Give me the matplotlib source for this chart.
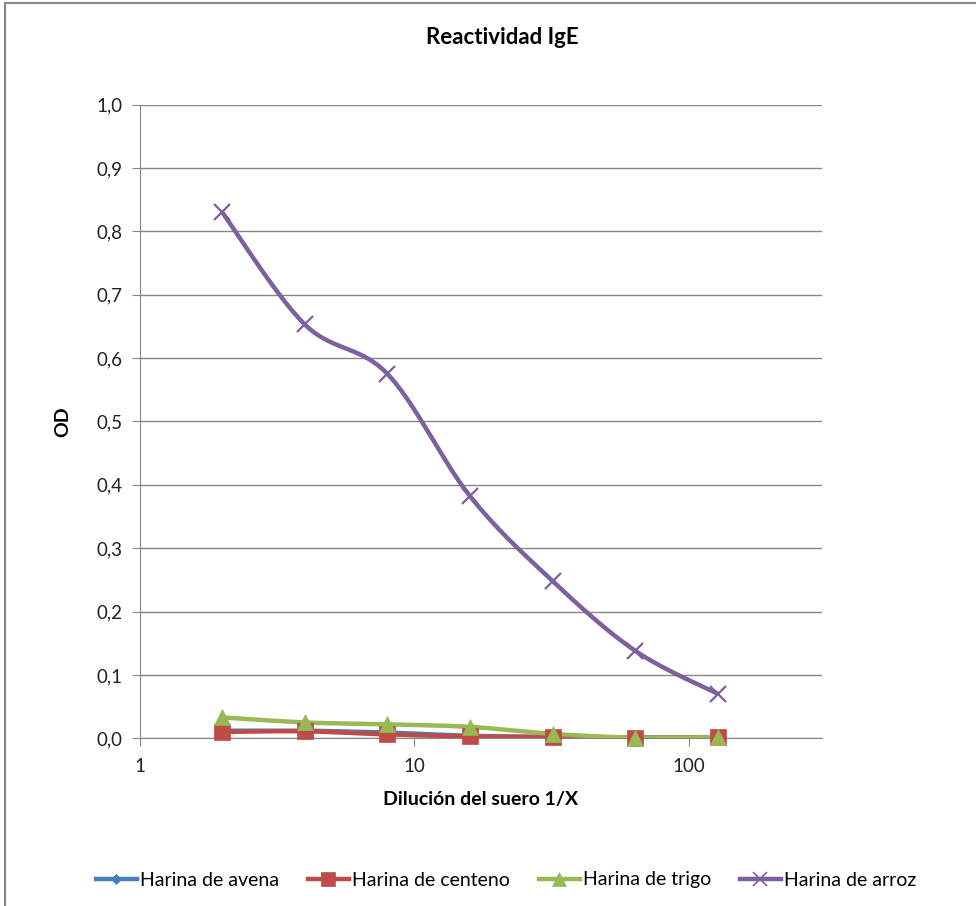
import numpy as np
import matplotlib
matplotlib.use("Agg")
import matplotlib.pyplot as plt
from matplotlib.patches import Rectangle
from matplotlib.lines import Line2D

dilution = [2, 4, 8, 16, 32, 64, 128]
avena = [0.012, 0.012, 0.009, 0.004, 0.002, 0.001, 0.001]
centeno = [0.010, 0.011, 0.006, 0.003, 0.002, 0.001, 0.002]
trigo = [0.033, 0.025, 0.022, 0.018, 0.007, 0.001, 0.002]
arroz = [0.830, 0.653, 0.575, 0.382, 0.248, 0.138, 0.070]
series_names = ["Harina de avena", "Harina de centeno", "Harina de trigo", "Harina de arroz"]
y_ticks = [0.0, 0.1, 0.2, 0.3, 0.4, 0.5, 0.6, 0.7, 0.8, 0.9, 1.0]
x_ticks = [1, 10, 100]

colors = ["#4A7EBB", "#BE4B48", "#98B954", "#7D60A0"]
markers = ["D", "s", "^", "x"]
msizes = [6, 12, 12, 12]

plt.rcParams['font.family'] = ['Lato', 'DejaVu Sans']

fig = plt.figure(figsize=(9.76, 9.06), dpi=100)
fig.patches.append(Rectangle((5/976, -0.1), 1.2, 1 - 3/906 + 0.1, transform=fig.transFigure,
                             fill=False, edgecolor="#868686", linewidth=1.5))
L, R, T, B = 139.5, 822, 104.5, 738.3
DEC = 274.5
ax = fig.add_axes([L/976, 1 - B/906, (R-L)/976, (B-T)/906])

XS, YS = DEC, (B - T)  # pixel scale for smoothing


def smooth(xs, ys, n=30):
    px = np.log10(np.array(xs, float)) * XS
    py = np.array(ys, float) * YS
    P = np.column_stack([px, py])
    out = []
    m = len(P)
    for i in range(m - 1):
        p0 = P[i - 1] if i > 0 else P[i]
        p1 = P[i]
        p2 = P[i + 1]
        p3 = P[i + 2] if i + 2 < m else P[i + 1]
        c1 = p1 + (p2 - p0) / 6.0
        c2 = p2 - (p3 - p1) / 6.0
        t = np.linspace(0, 1, n)[:, None]
        seg = (1 - t) ** 3 * p1 + 3 * (1 - t) ** 2 * t * c1 + 3 * (1 - t) * t ** 2 * c2 + t ** 3 * p2
        out.append(seg if i == 0 else seg[1:])
    S = np.vstack(out)
    return 10 ** (S[:, 0] / XS), S[:, 1] / YS


for vals, c, mk, ms in zip([avena, centeno, trigo, arroz], colors, markers, msizes):
    sx, sy = smooth(dilution, vals)
    ax.plot(sx, sy, color=c, linewidth=3.2, solid_capstyle="round", zorder=3)
    ax.plot(dilution, vals, linestyle="none", marker=mk, markersize=ms, color=c,
            markeredgewidth=1.6 if mk == "x" else 0.5, zorder=4, clip_on=False)

ax.set_xscale("log")
ax.set_xlim(1, 10 ** ((R - L) / DEC))
ax.set_ylim(0, 1.0)
ax.set_xticks(x_ticks)
ax.set_xticklabels([str(v) for v in x_ticks])
ax.xaxis.set_minor_locator(matplotlib.ticker.NullLocator())
ax.set_yticks(y_ticks)
ax.set_yticklabels([f"{v:.1f}".replace(".", ",") for v in y_ticks])
ax.grid(axis="y", color="#868686", linewidth=1)
ax.set_axisbelow(True)
for s in ["top", "right"]:
    ax.spines[s].set_visible(False)
ax.spines["left"].set_color("#868686")
ax.spines["bottom"].set_color("#868686")
ax.tick_params(axis="y", direction="out", length=6, color="#868686", labelsize=13.5, pad=6,
               labelcolor="#222222")
ax.tick_params(axis="x", direction="out", length=6, color="#868686", labelsize=13.5, pad=8,
               labelcolor="#222222")

ax.set_xlabel("Dilución del suero 1/X", fontsize=14, fontweight="bold", labelpad=12)
ax.set_ylabel("OD", fontsize=14, fontweight="bold", labelpad=18)
fig.text(0.515, 1 - 37/906, "Reactividad IgE", ha="center", va="center", fontsize=16, fontweight="bold")

handles = [Line2D([0], [0], color=c, marker=mk, markersize=ms * 0.85, linewidth=3.2,
                  markeredgewidth=1.2 if mk == "x" else 0.5)
           for c, mk, ms in zip(colors, markers, msizes)]
fig.legend(handles, series_names, loc="center", bbox_to_anchor=(506/976, 1 - 880/906), ncol=4,
           frameon=False, fontsize=14, handlelength=2.1, handletextpad=0.15, columnspacing=1.5)

fig.savefig("out.png", dpi=100)
